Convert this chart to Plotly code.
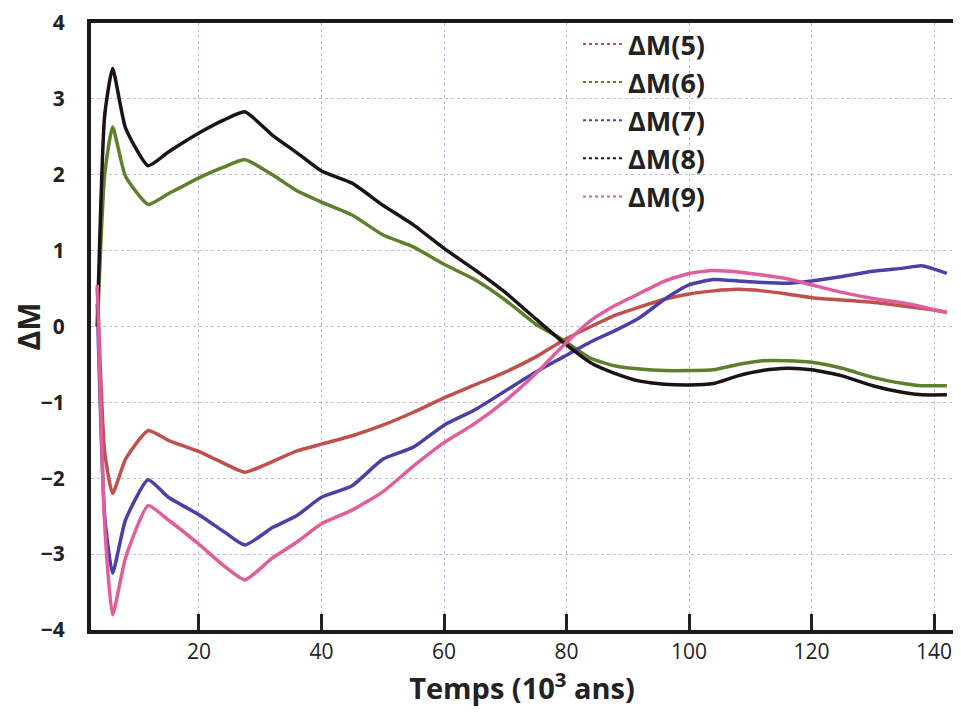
import plotly.graph_objects as go

# temps en milliers d'années
temps = [3.4, 4.6, 5.9, 8, 11.7, 15, 20, 24, 27.5, 32, 36, 40, 45, 50, 55, 60, 65, 70,
         75, 79.5, 84, 88, 92, 96, 100, 104, 108, 112, 116, 120, 125, 130, 135, 138, 142.1]

dm5 = [0.52, -1.65, -2.2, -1.75, -1.37, -1.5, -1.65, -1.8, -1.92, -1.78, -1.64, -1.55,
       -1.44, -1.3, -1.13, -0.94, -0.77, -0.6, -0.4, -0.18, 0.0, 0.15, 0.26, 0.36, 0.43,
       0.47, 0.49, 0.47, 0.43, 0.38, 0.35, 0.32, 0.27, 0.24, 0.19]
dm6 = [0.0, 2.0, 2.63, 1.98, 1.61, 1.75, 1.96, 2.1, 2.2, 2.0, 1.79, 1.64, 1.47, 1.21,
       1.05, 0.82, 0.62, 0.35, 0.03, -0.18, -0.42, -0.52, -0.56, -0.58, -0.58, -0.57,
       -0.5, -0.45, -0.45, -0.47, -0.55, -0.67, -0.75, -0.78, -0.78]
dm7 = [0.3, -2.5, -3.25, -2.55, -2.02, -2.25, -2.48, -2.7, -2.88, -2.65, -2.49, -2.25,
       -2.1, -1.75, -1.59, -1.3, -1.1, -0.85, -0.6, -0.4, -0.2, -0.05, 0.12, 0.36, 0.55,
       0.62, 0.6, 0.58, 0.57, 0.6, 0.66, 0.73, 0.77, 0.8, 0.7]
dm8 = [0.0, 2.78, 3.4, 2.62, 2.12, 2.3, 2.55, 2.72, 2.83, 2.52, 2.29, 2.05, 1.89, 1.6,
       1.34, 1.03, 0.75, 0.45, 0.1, -0.21, -0.48, -0.62, -0.72, -0.76, -0.77, -0.75,
       -0.65, -0.58, -0.55, -0.57, -0.65, -0.78, -0.87, -0.9, -0.9]
dm9 = [0.55, -2.6, -3.8, -3.05, -2.36, -2.55, -2.87, -3.15, -3.34, -3.05, -2.84, -2.6,
       -2.42, -2.18, -1.84, -1.53, -1.28, -0.98, -0.62, -0.25, 0.08, 0.28, 0.44, 0.6, 0.7,
       0.74, 0.72, 0.68, 0.63, 0.55, 0.45, 0.37, 0.31, 0.26, 0.18]

series = [
    ("ΔM(5)", dm5, "#c0504d"),
    ("ΔM(6)", dm6, "#5e7f2c"),
    ("ΔM(7)", dm7, "#4a40a8"),
    ("ΔM(8)", dm8, "#1c1218"),
    ("ΔM(9)", dm9, "#e05e9c"),
]

fig = go.Figure()
for nom, vals, couleur in series:
    fig.add_trace(go.Scatter(
        x=temps, y=vals, name=nom, mode="lines", showlegend=False,
        line=dict(color=couleur, width=3.5, shape="spline", smoothing=0.5),
    ))
# entrées de légende : traits fins pointillés comme sur l'original
for nom, vals, couleur in series:
    fig.add_trace(go.Scatter(
        x=[None], y=[None], name=nom, mode="lines",
        line=dict(color=couleur, width=2, dash="dot"),
    ))

police = "Open Sans, Noto Sans, sans-serif"
grille = "rgba(150,140,215,0.6)"

# la page ajoute 8 px de marge autour de la figure
fig.update_layout(
    width=945, height=699,
    paper_bgcolor="white", plot_bgcolor="white",
    margin=dict(l=83, r=0, t=15, b=77),
    font=dict(family=police, color="#222"),
    showlegend=True,
    legend=dict(
        x=0.565, y=1.005, xanchor="left", yanchor="top",
        bgcolor="rgba(0,0,0,0)",
        font=dict(size=27, family=police, color="#222", weight="bold"),
        itemwidth=40, tracegroupgap=0,
    ),
    xaxis=dict(
        range=[2.37, 143.1], automargin=False,
        tickvals=[20, 40, 60, 80, 100, 120, 140],
        ticks="inside", ticklen=16, tickwidth=2.5, tickcolor="#222",
        showline=True, linecolor="#1a1a1a", linewidth=4, mirror=True,
        showgrid=True, gridcolor=grille, griddash="dot", gridwidth=1,
        zeroline=False,
        tickfont=dict(size=21, color="#222"),
        title=dict(text="Temps (10<sup>3</sup> ans)", standoff=6,
                   font=dict(size=29, color="#222", weight="bold")),
    ),
    yaxis=dict(
        range=[-4, 4.001], automargin=False,
        tickvals=[-4, -3, -2, -1, 0, 1, 2, 3, 4],
        ticks="", ticklabelstandoff=18, ticklabeloverflow="allow",
        showline=True, linecolor="#1a1a1a", linewidth=4, mirror=False,
        showgrid=True, gridcolor=grille, griddash="dot", gridwidth=1,
        zeroline=False,
        tickfont=dict(size=21, color="#222", weight="bold"),
        title=dict(text="ΔM", standoff=12,
                   font=dict(size=30, color="#222", weight="bold")),
    ),
)

fig.write_html("out.html")
